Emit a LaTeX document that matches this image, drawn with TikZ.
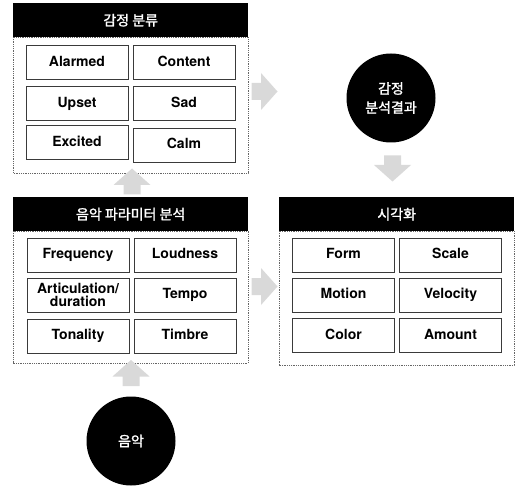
\documentclass[tikz,border=0pt]{standalone}
\usepackage{fontspec}
\setmainfont{TeX Gyre Heros}
\newfontfamily\kr{Noto Sans CJK KR}[FakeBold=1.6]
\definecolor{arrowgray}{HTML}{D9D9D9}
\definecolor{boxline}{HTML}{3A3A3A}
\tikzset{
  item/.style={draw=boxline, line width=0.9pt, fill=white, minimum width=102pt,
    minimum height=34pt, inner sep=0pt, align=center, text height=10.5pt, text depth=3pt,
    font=\fontsize{14}{13.5}\selectfont\bfseries},
  twoline/.style={text height=, text depth=},
  header/.style={fill=black, text=white, minimum width=235pt, minimum height=34pt,
    inner sep=0pt, anchor=north west, font=\fontsize{14}{15}\selectfont\kr},
  panel/.style={draw=gray!80!black, line width=0.8pt, dash pattern=on 0.9pt off 0.9pt},
  bubble/.style={circle, fill=black, text=white, minimum size=89pt, inner sep=0pt,
    align=center, font=\fontsize{14}{19}\selectfont\kr},
  % light grey block arrow pointing along +x, centred on its origin
  blockarr/.pic={\fill[arrowgray] (-13,-8.5) -- (-3.5,-8.5) -- (-3.5,-18.5) -- (13,0)
      -- (-3.5,18.5) -- (-3.5,8.5) -- (-13,8.5) -- cycle;},
}
\begin{document}
\begin{tikzpicture}[x=1pt,y=-1pt]
  \useasboundingbox (0,0) rectangle (515,487);

  % emotion classes
  \draw[panel] (13,37) rectangle (248,173);
  \node[header] (emoHead) at (13,3) {감정 분류};
  \node[item] (alarmed) at (77,62.5) {Alarmed};
  \node[item] (content) at (184,62.5) {Content};
  \node[item] (upset) at (77,103.5) {Upset};
  \node[item] (sad) at (184,103.5) {Sad};
  \node[item] (excited) at (77,142.5) {Excited};
  \node[item] (calm) at (184,145) {Calm};

  % music parameter analysis
  \draw[panel] (13,231) rectangle (248,363);
  \node[header] (parHead) at (13,197) {음악 파라미터 분석};
  \node[item] (frequency) at (78,255) {Frequency};
  \node[item] (loudness) at (185,255) {Loudness};
  \node[item, twoline] (artic) at (78,295) {Articulation/\\duration};
  \node[item] (tempo) at (185,295) {Tempo};
  \node[item] (tonality) at (78,336) {Tonality};
  \node[item] (timbre) at (185,336) {Timbre};

  % visualisation
  \draw[panel] (279,231) rectangle (514,365);
  \node[header] (visHead) at (279,197) {시각화};
  \node[item] (form) at (343.5,255) {Form};
  \node[item] (scale) at (450.5,255) {Scale};
  \node[item] (motion) at (343.5,295) {Motion};
  \node[item] (velocity) at (450.5,295) {Velocity};
  \node[item] (color) at (343.5,335.5) {Color};
  \node[item] (amount) at (450.5,335.5) {Amount};

  % input and result
  \node[bubble] (music) at (131,441) {음악};
  \node[bubble] (result) at (391,98) {감정\\분석결과};

  % flow arrows between the stages
  \coordinate (upIn) at (131,373);
  \coordinate (upMid) at (132,181.5);
  \coordinate (rightTop) at (264.5,91.5);
  \coordinate (downRes) at (392.5,168.5);
  \coordinate (rightLow) at (264.5,286.5);
  \pic[rotate=90] at (upIn) {blockarr};
  \pic[rotate=90] at (upMid) {blockarr};
  \pic at (rightTop) {blockarr};
  \pic[rotate=-90] at (downRes) {blockarr};
  \pic at (rightLow) {blockarr};
\end{tikzpicture}
\end{document}
